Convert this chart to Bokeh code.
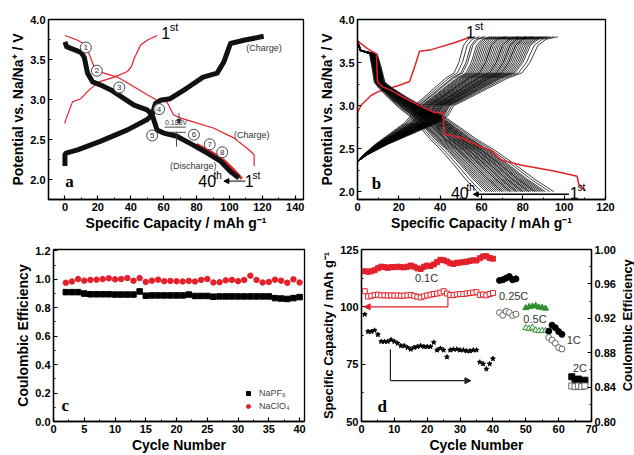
import math
from bokeh.plotting import figure
from bokeh.layouts import column, row
from bokeh.models import Range1d, LinearAxis, FixedTicker, NumeralTickFormatter, Arrow, NormalHead
from bokeh.core.properties import value
from bokeh.embed import file_html
from bokeh.resources import INLINE

RED = "#e3212b"
GREEN = "#2f8f2f"
FONT = "Liberation Sans"
SERIF = "Liberation Serif"

# ---------------- panel a : voltage profiles (NaPF6) ----------------
a_red_charge_x = [0, 0, 4.6, 9.7, 14.7, 20.8, 29.9, 38, 40.4, 42, 46, 50, 56]
a_red_charge_y = [2.70, 2.72, 2.97, 3.01, 3.12, 3.22, 3.28, 3.35, 3.41, 3.51, 3.68, 3.74, 3.80]
a_red_dis_x = [0, 7.7, 12.7, 15.8, 18.8, 23.8, 31.9, 42, 50, 56, 62, 66, 70, 78, 90.5, 102.6, 110.7, 115, 115]
a_red_dis_y = [3.80, 3.74, 3.68, 3.51, 3.35, 3.33, 3.28, 3.16, 3.06, 2.99, 2.97, 2.81, 2.77, 2.72, 2.64, 2.52, 2.39, 2.31, 2.17]
a_red_end_x = [80, 89, 97, 103, 107.5]
a_red_end_y = [2.44, 2.34, 2.23, 2.11, 2.01]
a_chg_x = [0, 0, 0.6, 7.7, 21.8, 38, 50, 53, 55, 58, 64, 74, 84, 92.5, 96.6, 100.6, 108.7, 120.8]
a_chg_y = [2.17, 2.31, 2.33, 2.37, 2.48, 2.62, 2.75, 2.81, 2.95, 2.99, 3.01, 3.14, 3.28, 3.33, 3.47, 3.70, 3.74, 3.79]
a_dis_x = [0, 1, 9.7, 11.7, 13.7, 16.8, 21.8, 27.9, 36, 42, 50, 53, 56, 60, 68, 78, 86.5, 94.5, 100.6, 105.7]
a_dis_y = [3.72, 3.66, 3.59, 3.53, 3.33, 3.22, 3.18, 3.12, 3.01, 2.93, 2.87, 2.81, 2.62, 2.58, 2.54, 2.43, 2.33, 2.23, 2.10, 2.02]
a_circ_x = [12.7, 19.4, 33, 57.2, 53, 78.4, 88, 95.6]
a_circ_y = [3.65, 3.36, 3.15, 2.88, 2.55, 2.56, 2.44, 2.34]
a_circ_t = ["1", "2", "3", "4", "5", "6", "7", "8"]

# ---------------- panel b : voltage profiles (NaClO4) ----------------
b_red_charge_x = [0, 0, 1.9, 6.7, 9.9, 14.8, 19.6, 25.2, 27.8, 30, 35.7, 46.9, 55]
b_red_charge_y = [2.78, 2.92, 3.01, 3.12, 3.16, 3.20, 3.23, 3.28, 3.46, 3.63, 3.65, 3.73, 3.80]
b_red_dis_x = [0, 5, 9.2, 9.6, 12, 16, 22, 30, 37.3, 41.3, 42, 50, 59.8, 64.6, 69.4, 79, 95, 106.3, 107, 110.4]
b_red_dis_y = [3.75, 3.66, 3.60, 3.28, 3.22, 3.18, 3.10, 3.00, 2.92, 2.92, 2.67, 2.63, 2.52, 2.48, 2.37, 2.31, 2.24, 2.18, 2.09, 2.01]
b_dis_frac = [0, 0.02, 0.10, 0.12, 0.14, 0.18, 0.25, 0.35, 0.45, 0.52, 0.60, 0.70, 0.80, 0.90, 1.0]
b_dis_v = [3.74, 3.64, 3.60, 3.45, 3.27, 3.20, 3.10, 2.97, 2.86, 2.75, 2.62, 2.48, 2.32, 2.15, 2.00]
b_chg_frac = [0, 0.05, 0.15, 0.30, 0.40, 0.45, 0.48, 0.55, 0.65, 0.75, 0.82, 0.86, 0.90, 0.94, 1.0]
b_chg_v = [2.35, 2.43, 2.55, 2.70, 2.80, 2.88, 3.00, 3.08, 3.20, 3.32, 3.38, 3.50, 3.70, 3.77, 3.80]
b_dis_caps = [95, 93, 91, 90, 89, 88, 87, 86, 86, 85, 84, 83, 83, 82, 81, 80, 80, 79, 78, 77,
              77, 76, 75, 74, 74, 73, 72, 71, 70, 70, 69, 68, 67, 66, 65, 64, 63, 62, 60, 58]
b_chg_caps = [97, 95, 93, 92, 91, 90, 89, 88, 87, 86, 85, 85, 84, 83, 82, 82, 81, 80, 79, 78,
              78, 77, 76, 75, 74, 73, 72, 72, 71, 70, 69, 68, 67, 66, 65, 64, 62, 61, 59, 57]

# ---------------- panel c : coulombic efficiency ----------------
c_cycles = list(range(2, 41))
c_napf6 = [0.91, 0.91, 0.91, 0.90, 0.895, 0.895, 0.895, 0.895, 0.893, 0.893, 0.893, 0.893, 0.915,
           0.885, 0.887, 0.887, 0.887, 0.887, 0.887, 0.887, 0.893, 0.883, 0.883, 0.883, 0.878, 0.88,
           0.88, 0.88, 0.88, 0.88, 0.88, 0.88, 0.88, 0.88, 0.868, 0.865, 0.862, 0.868, 0.875]
c_naclo4 = [0.976, 0.985, 1.002, 0.991, 0.996, 0.998, 1.002, 1.007, 1.0, 1.002, 1.009, 0.99, 1.009,
            0.982, 0.991, 0.998, 0.987, 0.989, 0.987, 0.985, 0.989, 0.985, 0.996, 1.002, 0.978, 0.98,
            0.993, 0.996, 0.987, 0.996, 1.026, 0.996, 0.978, 0.982, 0.998, 0.991, 0.976, 1.0, 0.978]

# ---------------- panel d : rate capability ----------------
d_c01 = list(range(1, 41))
d_c01_fill = [115.5, 115.3, 115.5, 116, 116.8, 117.5, 117.3, 117.0, 117.3, 117.3, 117.5, 117.3, 117.2,
              117.5, 118, 117.5, 116.8, 116.5, 117.5, 118, 117.8, 118.5, 119.5, 120.5, 120.3, 119.8,
              119, 118.7, 119.2, 119.3, 119.5, 119.7, 120, 120.3, 120.2, 121.2, 122, 122.1, 121.3, 121]
d_c01_open = [106.8, 104.5, 104.8, 105.2, 105.3, 105.0, 105.0, 104.9, 105.0, 104.9, 105.0, 104.8, 104.9,
              105.0, 105.2, 104.8, 104.4, 104.1, 104.6, 105.0, 105.3, 105.6, 105.8, 106.2, 106.8, 105.8,
              105.2, 105.1, 105.4, 105.6, 105.6, 105.8, 106.0, 106.2, 106.4, 105.2, 105.4, 105.0, 105.6, 106.0]
d_c01_ce = [0.9246, 0.9045, 0.9045, 0.906, 0.901, 0.893, 0.893, 0.893, 0.895, 0.893, 0.891, 0.888,
            0.888, 0.886, 0.884, 0.886, 0.887, 0.888, 0.887, 0.887, 0.887, 0.892, 0.883, 0.885, 0.883,
            0.875, 0.883, 0.884, 0.884, 0.883, 0.883, 0.882, 0.882, 0.883, 0.883, 0.869, 0.867, 0.861,
            0.867, 0.873]
d_c025 = [42, 43, 44, 45, 46, 47]
d_c025_fill = [111.5, 111.8, 112.5, 113.2, 111.8, 112.2]
d_c025_open = [97.5, 96.3, 98.0, 97.5, 96.2, 96.8]
d_c05 = [50, 51, 52, 53, 54, 55, 56]
d_c05_fill = [99.5, 100.0, 100.2, 100.5, 99.8, 99.7, 99.3]
d_c05_open = [90.8, 90.5, 91.0, 89.8, 89.5, 89.6, 89.6]
d_c1 = [57, 58, 59, 60, 61]
d_c1_fill = [89.4, 92.0, 90.9, 89.2, 88.0]
d_c1_open = [86.6, 85.5, 84.1, 82.2, 81.6]
d_c2 = [64, 65, 66, 67, 68]
d_c2_fill = [69.5, 68.0, 68.5, 67.5, 68.0]
d_c2_open = [65.5, 65.2, 65.5, 65.2, 65.5]


def base_fig(w, h, xr, yr, bl, br, bt, bb):
    p = figure(width=w, height=h, x_range=Range1d(*xr), y_range=Range1d(*yr),
               min_border_left=bl, min_border_right=br, min_border_top=bt, min_border_bottom=bb,
               output_backend="svg", toolbar_location=None)
    p.xgrid.visible = False
    p.ygrid.visible = False
    p.outline_line_color = "black"
    p.outline_line_width = 1.3
    p.outline_line_alpha = 1.0
    return p


def style_axis(ax, label, ticks, minor, fmt, label_size="14px"):
    ax.axis_label = label
    ax.ticker = FixedTicker(ticks=ticks, minor_ticks=minor)
    ax.formatter = NumeralTickFormatter(format=fmt)
    ax.axis_line_width = 1.3
    ax.major_tick_in = 4
    ax.major_tick_out = 0
    ax.minor_tick_in = 2
    ax.minor_tick_out = 0
    ax.major_tick_line_width = 1.2
    ax.major_label_text_font = FONT
    ax.major_label_text_font_style = "bold"
    ax.major_label_text_font_size = "11px"
    ax.major_label_text_color = "black"
    ax.axis_label_text_font = FONT
    ax.axis_label_text_font_style = "bold"
    ax.axis_label_text_font_size = label_size
    ax.axis_label_text_color = "black"
    ax.major_label_standoff = 3
    ax.axis_label_standoff = 1


def txt(p, xs, ys, texts, size, color="black", font=FONT, style="normal", align="center",
        baseline="middle", **kw):
    p.text(x=xs, y=ys, text=texts, text_font=value(font), text_font_size=value(size),
           text_color=color, text_font_style=style, text_align=align, text_baseline=baseline, **kw)


# ================= panel a =================
pa = base_fig(316, 237, (-10, 145), (1.75, 4.0), 48, 13, 17, 38)
style_axis(pa.xaxis[0], "Specific Capacity / mAh g\u207b\u00b9", list(range(0, 141, 20)),
           list(range(10, 141, 20)), "0")
style_axis(pa.yaxis[0], "Potential vs. Na/Na\u207a / V", [2.0, 2.5, 3.0, 3.5, 4.0],
           [2.25, 2.75, 3.25, 3.75], "0.0")
pa.line(a_red_charge_x, a_red_charge_y, color=RED, line_width=1.2)
pa.line(a_red_dis_x, a_red_dis_y, color=RED, line_width=1.2)
pa.line(a_red_end_x, a_red_end_y, color=RED, line_width=3)
pa.line(a_chg_x, a_chg_y, color="#111111", line_width=5, line_join="round")
pa.line(a_dis_x, a_dis_y, color="#111111", line_width=5, line_join="round")
pa.scatter(a_circ_x, a_circ_y, size=11, marker="circle", fill_color="white", fill_alpha=0.8,
           line_color="#333333", line_width=0.9)
txt(pa, a_circ_x, a_circ_y, a_circ_t, "8px", color="#333333")
txt(pa, [121], [3.64], ["(Charge)"], "9px", color="#333333")
txt(pa, [113.5], [2.56], ["(Charge)"], "9px", color="#333333")
txt(pa, [78], [2.17], ["(Discharge)"], "9px", color="#333333")
txt(pa, [67.5], [2.715], ["0.188V"], "7px", color="#333333")
pa.segment(x0=[60.5, 63], y0=[2.655, 2.59], x1=[73.5, 73.5], y1=[2.655, 2.59], color="#333333", line_width=0.9)
pa.segment(x0=[67.8], y0=[2.59], x1=[67.8], y1=[2.41], color="#333333", line_width=0.9)
pa.add_layout(Arrow(end=NormalHead(size=4, fill_color="#333333", line_color="#333333"),
                    x_start=69.3, y_start=2.83, x_end=69.3, y_end=2.70, line_width=0.9, line_color="#333333"))
txt(pa, [61.2], [3.83], ["1"], "16px")
txt(pa, [66.3], [3.91], ["st"], "11px")
txt(pa, [86.5], [1.98], ["40"], "16px")
txt(pa, [92.8], [2.05], ["th"], "10px")
txt(pa, [112], [1.98], ["1"], "16px")
txt(pa, [116.3], [2.05], ["st"], "10px")
pa.add_layout(Arrow(end=NormalHead(size=5, fill_color="black"), x_start=109.7, y_start=1.98,
                    x_end=96.6, y_end=1.98, line_width=1))
txt(pa, [2.8], [1.98], ["a"], "17px", font=SERIF, style="bold")

# ================= panel b =================
pb = base_fig(318, 237, (0, 120), (1.91, 4.0), 40, 29, 19, 33)
style_axis(pb.xaxis[0], "Specific Capacity / mAh g\u207b\u00b9", list(range(0, 121, 20)),
           list(range(10, 121, 20)), "0")
style_axis(pb.yaxis[0], "Potential vs. Na/Na\u207a / V", [2.0, 2.5, 3.0, 3.5, 4.0],
           [2.25, 2.75, 3.25, 3.75], "0.0")
b_dis_xs = [[f * q for f in b_dis_frac] for q in b_dis_caps]
b_dis_ys = [b_dis_v for _ in b_dis_caps]
b_chg_xs = [[f * q for f in b_chg_frac] for q in b_chg_caps]
b_chg_ys = [b_chg_v for _ in b_chg_caps]
pb.line(b_red_charge_x, b_red_charge_y, color=RED, line_width=1.5)
pb.multi_line(b_chg_xs, b_chg_ys, line_color="black", line_width=0.9, line_alpha=0.85)
pb.multi_line(b_dis_xs, b_dis_ys, line_color="black", line_width=0.9, line_alpha=0.85)
pb.line(b_red_dis_x, b_red_dis_y, color=RED, line_width=1.5)
txt(pb, [54.6], [3.85], ["1"], "16px")
txt(pb, [58.8], [3.93], ["st"], "11px")
txt(pb, [49.5], [1.99], ["40"], "16px")
txt(pb, [54.8], [2.05], ["th"], "10px")
txt(pb, [104.8], [1.99], ["1"], "16px")
txt(pb, [108.3], [2.05], ["st"], "10px")
pb.add_layout(Arrow(end=NormalHead(size=5, fill_color="black"), x_start=102.3, y_start=1.97,
                    x_end=56, y_end=1.97, line_width=1.5))
txt(pb, [9.2], [2.1], ["b"], "17px", font=SERIF, style="bold")

# ================= panel c =================
pc = base_fig(316, 218, (0, 40.8), (0, 1.21), 53, 12, 4, 29)
style_axis(pc.xaxis[0], "Cycle Number", list(range(0, 41, 5)), [x + 2.5 for x in range(0, 40, 5)], "0")
style_axis(pc.yaxis[0], "Coulombic Efficiency", [0, 0.2, 0.4, 0.6, 0.8, 1.0, 1.2],
           [0.1, 0.3, 0.5, 0.7, 0.9, 1.1], "0.0")
pc.scatter(c_cycles, c_napf6, marker="square", size=5.5, color="black", legend_label="NaPF\u2086")
pc.scatter(c_cycles, c_naclo4, marker="circle", size=5.5, color=RED, legend_label="NaClO\u2084")
lg = pc.legend[0]
lg.location = (188, 8)
lg.border_line_alpha = 0
lg.background_fill_alpha = 0
lg.label_text_font = FONT
lg.label_text_font_size = "9px"
lg.glyph_width = 10
lg.glyph_height = 10
lg.label_height = 10
lg.spacing = 3
lg.padding = 2
lg.margin = 0
lg.label_standoff = 6
txt(pc, [1.9], [0.11], ["c"], "17px", font=SERIF, style="bold")

# ================= panel d =================
pd = base_fig(302, 218, (0, 70), (50, 125), 45, 25, 12, 33)
style_axis(pd.xaxis[0], "Cycle Number", list(range(0, 71, 10)), list(range(5, 70, 10)), "0")
style_axis(pd.yaxis[0], "Specific Capacity / mAh g\u207b\u00b9", [50, 75, 100, 125],
           [62.5, 87.5, 112.5], "0", label_size="13px")
pd.extra_y_ranges = {"ce": Range1d(0.80, 1.00)}
ax_r = LinearAxis(y_range_name="ce")
style_axis(ax_r, None, [0.80, 0.84, 0.88, 0.92, 0.96, 1.00],
           [0.82, 0.86, 0.90, 0.94, 0.98], "0.00", label_size="13px")
pd.add_layout(ax_r, "right")

pd.line(d_c01, d_c01_fill, color=RED, line_width=2.5)
pd.scatter(d_c01, d_c01_fill, marker="square", size=5, color=RED)
pd.line(d_c01, d_c01_open, color="#ee8888", line_width=1)
pd.scatter(d_c01, d_c01_open, marker="square", size=5, fill_color="white", line_color=RED, line_width=1)
pd.scatter(d_c01, d_c01_ce, marker="star", size=5, color="black", y_range_name="ce")
pd.scatter(d_c025, d_c025_fill, marker="circle", size=6, color="black")
pd.scatter(d_c025, d_c025_open, marker="circle", size=6, fill_color="white", line_color="#666666")
pd.scatter(d_c05, d_c05_fill, marker="triangle", size=6, color=GREEN)
pd.scatter(d_c05, d_c05_open, marker="triangle", size=6, fill_color="white", line_color=GREEN)
pd.scatter(d_c1, d_c1_fill, marker="circle", size=6, color="black")
pd.scatter(d_c1, d_c1_open, marker="circle", size=6, fill_color="white", line_color="#666666")
pd.scatter(d_c2, d_c2_fill, marker="square", size=6, color="black")
pd.scatter(d_c2, d_c2_open, marker="square", size=6, fill_color="white", line_color="#666666")

pd.segment(x0=[26.3], y0=[104.3], x1=[26.3], y1=[100.0], color=RED, line_width=1.2)
pd.add_layout(Arrow(end=NormalHead(size=6, fill_color=RED, line_color=RED), x_start=26.3, y_start=100.0,
                    x_end=0.8, y_end=100.0, line_color=RED, line_width=1.2))
pd.segment(x0=[8.8], y0=[81.5], x1=[8.8], y1=[67.8], color="#222222", line_width=1.2)
pd.add_layout(Arrow(end=NormalHead(size=6, fill_color="#222222", line_color="#222222"), x_start=8.8,
                    y_start=67.8, x_end=33.3, y_end=67.8, line_color="#222222", line_width=1.2))

txt(pd, [19.8], [112.7], ["0.1C"], "11px", color="#333333")
txt(pd, [46.3], [104.8], ["0.25C"], "11px", color="#333333")
txt(pd, [52.8], [94.7], ["0.5C"], "11px", color="#333333")
txt(pd, [64.6], [85.5], ["1C"], "11px", color="#333333")
txt(pd, [66.5], [73.2], ["2C"], "11px", color="#333333")
txt(pd, [6.3], [56.5], ["d"], "17px", font=SERIF, style="bold")

# right-hand axis title of panel d (reads bottom-to-top), in a narrow strip
strip = figure(width=16, height=218, x_range=Range1d(0, 16), y_range=Range1d(0, 218),
               min_border_left=0, min_border_right=0, min_border_top=0, min_border_bottom=0,
               output_backend="svg", toolbar_location=None)
strip.axis.visible = False
strip.xgrid.visible = False
strip.ygrid.visible = False
strip.outline_line_color = None
txt(strip, [8.5], [122], ["Coulombic Efficiency"], "13px", style="bold", angle=math.pi / 2)

layout = column(row(pa, pb), row(pc, pd, strip))
open("out.html", "w").write(file_html(layout, INLINE))
